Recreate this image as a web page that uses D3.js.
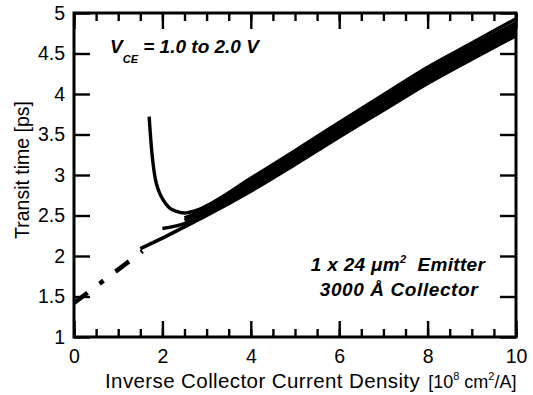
<!DOCTYPE html>
<html>
<head>
<meta charset="utf-8">
<script src="https://cdn.jsdelivr.net/npm/d3@7"></script>
<style>
  body { margin: 0; background: #fff; }
  svg { display: block; font-family: "Liberation Sans", Arial, sans-serif; }
</style>
</head>
<body>
<div id="chart"></div>
<script>
// inverse collector current density grid [1e8 cm^2/A]
const xGrid = [1.5, 2, 2.5, 3, 4, 5, 6, 7, 8, 9, 10];

const tauA = [2.09, 2.22, 2.36, 2.50, 2.80, 3.13, 3.47, 3.80, 4.13, 4.43, 4.72];
const tauB = [null, 2.34, 2.40, 2.53, 2.83, 3.17, 3.51, 3.84, 4.17, 4.47, 4.76];
const tauC = [null, null, 2.44, 2.56, 2.87, 3.21, 3.55, 3.88, 4.21, 4.51, 4.80];
const tauD = [null, null, 2.47, 2.58, 2.90, 3.24, 3.58, 3.92, 4.25, 4.55, 4.84];
const tauE = [null, null, null, 2.61, 2.93, 3.27, 3.62, 3.96, 4.29, 4.59, 4.88];

// the one curve that turns up at high current (low 1/J)
const hookX = [1.70, 1.75, 1.83, 1.92, 2.02, 2.15, 2.32, 2.50, 2.62, 2.85, 3, 4, 5, 6, 7, 8, 9, 10];
const hookY = [3.72, 3.35, 2.98, 2.80, 2.69, 2.60, 2.55, 2.53, 2.54, 2.58, 2.62, 2.96, 3.30, 3.65, 3.99, 4.33, 4.63, 4.93];

// extrapolation to infinite current
const extrapX = [0, 1.55];
const extrapY = [1.42, 2.06];

const xTicks = [0, 2, 4, 6, 8, 10];
const xMinor = d3.range(0, 10.01, 0.5);
const yTicks = [1, 1.5, 2, 2.5, 3, 3.5, 4, 4.5, 5];

const W = 533, H = 395;
const svg = d3.select('#chart').append('svg')
  .attr('width', W).attr('height', H);

const x = d3.scaleLinear().domain([0, 10]).range([74, 516]);
const y = d3.scaleLinear().domain([1, 5]).range([337, 13]);

const line = d3.line()
  .defined(d => d[1] != null)
  .x(d => x(d[0])).y(d => y(d[1]))
  .curve(d3.curveMonotoneX);

// data
const plot = svg.append('g');
const zipGrid = ys => xGrid.map((v, i) => [v, ys[i]]);

plot.append('path')
  .attr('d', line(extrapX.map((v, i) => [v, extrapY[i]])))
  .attr('fill', 'none').attr('stroke', '#000')
  .attr('stroke-width', 4.5)
  .attr('stroke-dasharray', '17,15,5,15');

for (const ys of [tauA, tauB, tauC, tauD, tauE]) {
  plot.append('path')
    .attr('d', line(zipGrid(ys)))
    .attr('fill', 'none').attr('stroke', '#000')
    .attr('stroke-width', 3.5);
}

plot.append('path')
  .attr('d', line(hookX.map((v, i) => [v, hookY[i]])))
  .attr('fill', 'none').attr('stroke', '#000')
  .attr('stroke-width', 3.4);

// axes (ticks pointing in, on all four sides)
const styleAxis = g => {
  g.select('.domain').remove();
  g.selectAll('.tick line').attr('stroke', '#000').attr('stroke-width', 2.4);
  g.selectAll('.tick text').attr('fill', '#000').attr('font-size', 19.5);
};

svg.append('g').attr('transform', `translate(0,${y(1)})`)
  .call(d3.axisBottom(x).tickValues(xMinor).tickSize(-8).tickFormat(''))
  .call(styleAxis);
svg.append('g').attr('transform', `translate(0,${y(1)})`)
  .call(d3.axisBottom(x).tickValues(xTicks).tickSize(-16).tickPadding(26).tickFormat(d3.format('d')))
  .call(styleAxis)
  .selectAll('.tick text').attr('dy', 0);

svg.append('g').attr('transform', `translate(0,${y(5)})`)
  .call(d3.axisTop(x).tickValues(xMinor).tickSize(-8).tickFormat(''))
  .call(styleAxis);
svg.append('g').attr('transform', `translate(0,${y(5)})`)
  .call(d3.axisTop(x).tickValues(xTicks).tickSize(-16).tickFormat(''))
  .call(styleAxis);

svg.append('g').attr('transform', `translate(${x(0)},0)`)
  .call(d3.axisLeft(y).tickValues(yTicks).tickSize(-16).tickPadding(9).tickFormat(d => String(d)))
  .call(styleAxis);
svg.append('g').attr('transform', `translate(${x(10)},0)`)
  .call(d3.axisRight(y).tickValues(yTicks).tickSize(-16).tickFormat(''))
  .call(styleAxis);

svg.append('rect')
  .attr('x', x(0)).attr('y', y(5))
  .attr('width', x(10) - x(0)).attr('height', y(1) - y(5))
  .attr('fill', 'none').attr('stroke', '#000').attr('stroke-width', 3);

// axis titles
svg.append('text')
  .attr('transform', `translate(29,${(y(1) + y(5)) / 2 - 5}) rotate(-90)`)
  .attr('text-anchor', 'middle').attr('font-size', 19.5)
  .text('Transit time [ps]');

const xt = svg.append('text')
  .attr('x', 105).attr('y', 388).attr('font-size', 20.5);
xt.append('tspan').attr('letter-spacing', 0.4).text('Inverse Collector Current Density');
const unit = xt.append('tspan').attr('font-size', 18);
unit.append('tspan').attr('dx', 8).text('[10');
unit.append('tspan').attr('font-size', 11).attr('dy', -8).text('8');
unit.append('tspan').attr('dy', 8).text(' cm');
unit.append('tspan').attr('font-size', 11).attr('dy', -8).text('2');
unit.append('tspan').attr('dy', 8).text('/A]');

// annotations
const vce = svg.append('text')
  .attr('x', 110).attr('y', 53)
  .attr('font-size', 19).attr('font-weight', 'bold').attr('font-style', 'italic');
vce.append('tspan').text('V');
vce.append('tspan').attr('font-size', 11).attr('dy', 10).text('CE');
vce.append('tspan').attr('dy', -10).text(' = 1.0 to 2.0 V');

const em = svg.append('text')
  .attr('x', 398).attr('y', 271).attr('text-anchor', 'middle')
  .attr('font-size', 19).attr('font-weight', 'bold').attr('font-style', 'italic')
  .attr('letter-spacing', 0.3).attr('xml:space', 'preserve');
em.append('tspan').text('1 x 24 \u03bcm');
em.append('tspan').attr('font-size', 11).attr('dy', -8).text('2');
em.append('tspan').attr('dy', 8).text('\u00a0 Emitter');

svg.append('text')
  .attr('x', 399).attr('y', 296).attr('text-anchor', 'middle')
  .attr('font-size', 19).attr('font-weight', 'bold').attr('font-style', 'italic')
  .attr('letter-spacing', 0.6)
  .text('3000 \u00c5 Collector');
</script>
</body>
</html>
